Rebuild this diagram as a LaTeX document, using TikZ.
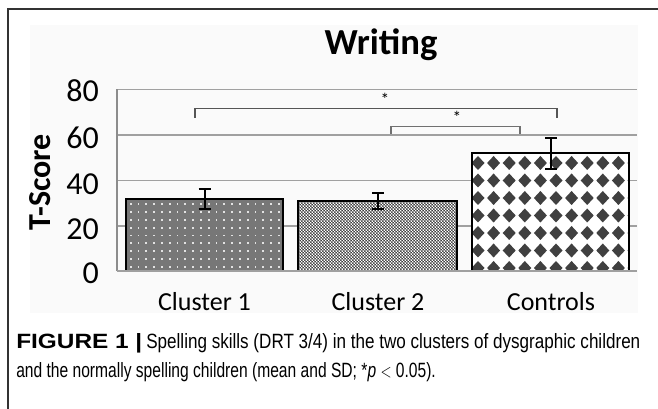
\documentclass[tikz,border=0pt]{standalone}
\usepackage{fontspec}
\setmainfont{Liberation Sans}
\newfontfamily\calibri{Carlito}
\definecolor{framegray}{HTML}{333333}
\definecolor{gridgray}{HTML}{A0A0A0}
\definecolor{axisgray}{HTML}{8C8C8C}
\definecolor{barone}{HTML}{777777}
\definecolor{dotcol}{HTML}{E2E2E2}
\definecolor{checkdark}{HTML}{3A3A3A}
\definecolor{diamcol}{HTML}{404040}
\definecolor{brackone}{HTML}{555555}
\definecolor{bracktwo}{HTML}{707070}
\begin{document}
\begin{tikzpicture}[x=0.75pt,y=-0.75pt,
  gridline/.style={draw=gridgray,line width=1.1pt},
  barframe/.style={draw=black,line width=1.5pt},
  errbar/.style={draw=black,line width=1.5pt},
  tick/.style={font=\calibri\fontsize{24}{25}\selectfont,inner sep=0pt},
  cat/.style={font=\calibri\fontsize{19.5}{20}\selectfont,inner sep=0pt},
  star/.style={font=\calibri\fontsize{13}{14}\selectfont,inner sep=0pt},
  caption/.style={font=\fontsize{15.5}{17}\selectfont,inner sep=0pt,anchor=base west}]
\useasboundingbox (0,0) rectangle (658,409);
\fill[white] (0,0) rectangle (658,409);
% chart area
\fill[black!2] (30,25) rectangle (638,313);
% frame
\draw[framegray,line width=1.5pt] (8,409) -- (8,9) -- (658,9);
% gridlines
\foreach \v in {20,40,60,80}
  \draw[gridline] (117,{271.5-2.275*\v}) -- (637,{271.5-2.275*\v});
% bar 1
\fill[barone] (126,199) rectangle (283,271.5);
\begin{scope}
  \clip (126,199) rectangle (283,271.5);
  \foreach \i in {0,...,19}
    \foreach \j in {0,...,9}
      \fill[dotcol] ({130.7+7.8*\i-0.9},{204.3+7.8*\j-0.9}) rectangle ++(1.8,1.8);
\end{scope}
\draw[barframe] (126,199) rectangle (283,271.5);
% bar 2
\fill[checkdark] (298,201) rectangle (457,271.5);
\begin{scope}
  \clip (298,201) rectangle (457,271.5);
  \foreach \i in {0,...,53}
    \foreach \j in {0,...,23}
      \fill[white] ({298+3*\i},{201+3*\j}) rectangle ++(1.3,1.3)
                   ({299.5+3*\i},{202.5+3*\j}) rectangle ++(1.3,1.3);
\end{scope}
\draw[barframe] (298,201) rectangle (457,271.5);
% bar 3
\fill[white] (472,153) rectangle (629,271.5);
\begin{scope}
  \clip (472,153) rectangle (629,271.5);
  \foreach \i in {0,...,10}
    \foreach \j in {0,...,6}
      \fill[diamcol] ({478+15.6*\i},{163+17.5*\j-7}) -- ++(6.5,7) -- ++(-6.5,7) -- ++(-6.5,-7) -- cycle;
\end{scope}
\draw[barframe] (472,153) rectangle (629,271.5);
% axes
\draw[axisgray,line width=1.2pt] (117,89.5) -- (117,271.5);
\draw[gridgray,line width=1.5pt] (117,271.5) -- (637,271.5);
% error bars
\draw[errbar] (198.5,189) -- (210.5,189) (204.5,189) -- (204.5,209) (198.5,209) -- (210.5,209);
\draw[errbar] (372,193) -- (384,193) (378,193) -- (378,209) (372,209) -- (384,209);
\draw[errbar] (545,138) -- (557,138) (551,138) -- (551,169) (545,169) -- (557,169);
% significance brackets
\coordinate (b1l) at (195,117.7);
\coordinate (b1r) at (557,117.7);
\coordinate (b2l) at (391,134);
\coordinate (b2r) at (520,134);
\draw[brackone,line width=0.9pt] (b1l) |- (376,108.3) -| (b1r);
\draw[bracktwo,line width=0.9pt] (b2l) |- (455,126.3) -| (b2r);
\node[star] (s1) at (385,99) {*};
\node[star] (s2) at (457,117) {*};
% title
\node[font=\calibri\bfseries\fontsize{27.5}{30}\selectfont,inner sep=0pt] (title) at (381,45) {Writing};
% y ticks
\node[tick,anchor=east] (y80) at (99,91) {80};
\node[tick,anchor=east] (y60) at (99,138) {60};
\node[tick,anchor=east] (y40) at (99,184) {40};
\node[tick,anchor=east] (y20) at (99,229.5) {20};
\node[tick,anchor=east] (y0) at (99,273.5) {0};
\node[font=\calibri\bfseries\fontsize{24}{25}\selectfont,inner sep=0pt,rotate=90] (ylab) at (40,182) {T-Score};
% categories
\node[cat] (c1) at (204.5,302) {Cluster 1};
\node[cat] (c2) at (378,302) {Cluster 2};
\node[cat] (c3) at (551,302) {Controls};
% caption
\node[caption] (cap1) at (16,349) {\scalebox{1.18}[1]{\textbf{FIGURE 1 |}}\hspace{3pt}\scalebox{0.826}[1]{Spelling skills (DRT 3/4) in the two clusters of dysgraphic children}};
\node[caption] (cap2) at (16,378) {\scalebox{0.755}[1]{and the normally spelling children (mean and SD; *\textit{p} $<$ 0.05).}};
\end{tikzpicture}
\end{document}
